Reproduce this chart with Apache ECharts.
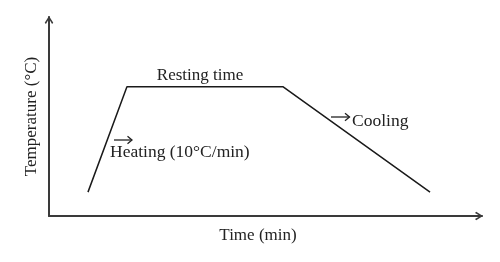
<!DOCTYPE html>
<html>
<head>
<meta charset="utf-8">
<script src="https://cdn.jsdelivr.net/npm/echarts@6/dist/echarts.min.js"></script>
<style>
html,body{margin:0;padding:0;background:#fff;}
#chart{width:500px;height:262px;}
</style>
</head>
<body>
<div id="chart"></div>
<script>
// Data (abstract units: time 0-100, temperature 0-100)
var timeValues = [9, 18, 54, 88];
var tempValues = [12, 65, 65, 12];
var xAxisName = 'Time (min)';
var yAxisName = 'Temperature (\u00B0C)';
var annotations = ['Resting time', 'Heating (10\u00B0C/min)', 'Cooling'];

var serif = '"Liberation Serif", "DejaVu Serif", serif';
var chevron = 'path://M0,8 L5,0 L10,8 L8.6,9.4 L5,3.2 L1.4,9.4 Z';

var chart = echarts.init(document.getElementById('chart'), null, {renderer: 'canvas'});
var seriesData = timeValues.map(function (t, i) { return [t, tempValues[i]]; });

var axisCommon = {
  axisTick: {show: false},
  axisLabel: {show: false},
  splitLine: {show: false},
  axisLine: {
    show: true,
    lineStyle: {color: '#3a3a3a', width: 2},
    symbol: ['none', chevron],
    symbolSize: [11, 8],
    symbolOffset: [0, -3]
  },
  nameLocation: 'middle',
  nameTextStyle: {fontFamily: serif, fontSize: 17, color: '#222'}
};

function arrowGraphic(x0, x1, y) {
  var st = {stroke: '#222', lineWidth: 1.3, fill: null};
  return [
    {type: 'line', shape: {x1: x0, y1: y, x2: x1, y2: y}, style: st},
    {type: 'polyline', shape: {points: [[x1 - 4.5, y - 3.8], [x1, y], [x1 - 4.5, y + 3.8]]}, style: st}
  ];
}

chart.setOption({
  animation: false,
  grid: {left: 49, right: 18, top: 17, bottom: 46},
  xAxis: Object.assign({}, axisCommon, {
    type: 'value', min: 0, max: 100,
    name: xAxisName, nameGap: 11,
    nameTextStyle: Object.assign({}, axisCommon.nameTextStyle, {padding: [0, 15, 0, 0]})
  }),
  yAxis: Object.assign({}, axisCommon, {
    type: 'value', min: 0, max: 100,
    name: yAxisName, nameGap: 9
  }),
  series: [{
    type: 'line',
    data: seriesData,
    symbol: 'none',
    lineStyle: {color: '#1a1a1a', width: 1.5}
  }],
  graphic: [
    {type: 'text', x: 200, y: 76, style: {text: annotations[0], font: '17px ' + serif, fill: '#222', textAlign: 'center', textVerticalAlign: 'middle'}},
    {type: 'text', x: 110, y: 152, style: {text: annotations[1], font: '17.5px ' + serif, fill: '#222', textAlign: 'left', textVerticalAlign: 'middle'}},
    {type: 'text', x: 352, y: 121, style: {text: annotations[2], font: '17.5px ' + serif, fill: '#222', textAlign: 'left', textVerticalAlign: 'middle'}}
  ].concat(arrowGraphic(114, 132, 140)).concat(arrowGraphic(331, 349.5, 117))
});
</script>
</body>
</html>
